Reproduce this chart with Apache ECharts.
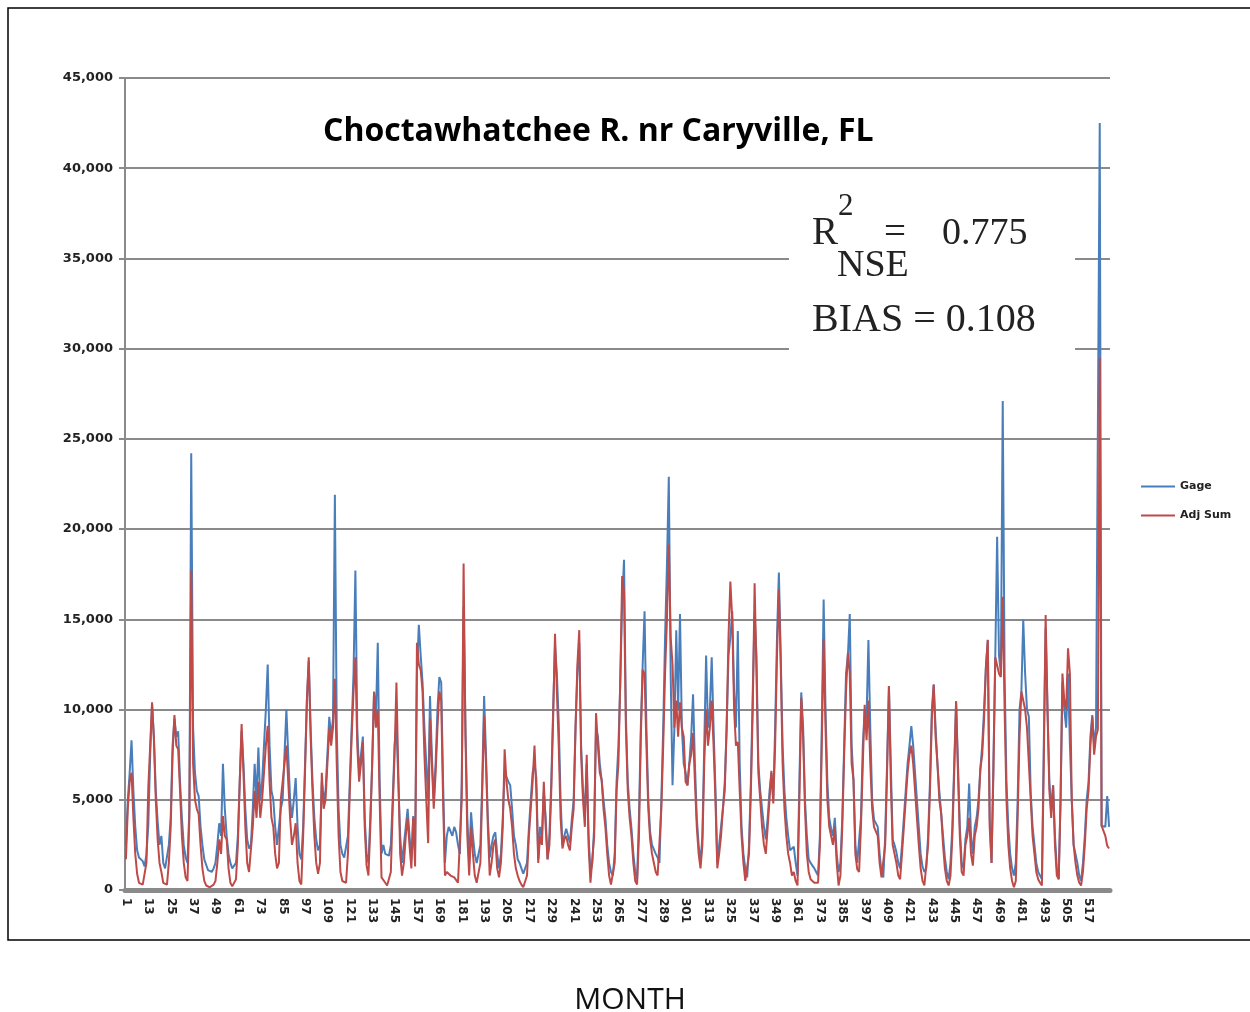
<!DOCTYPE html>
<html>
<head>
<meta charset="utf-8">
<script src="https://cdn.jsdelivr.net/npm/echarts@6/dist/echarts.min.js"></script>
<style>
  html, body { margin: 0; padding: 0; background: #fff; }
  #chart { width: 1250px; height: 1012px; }
</style>
</head>
<body>
<div id="chart"></div>
<script>
// Monthly flow, Choctawhatchee River near Caryville, FL (months 1..528)
const monthCount = 528;
const months = Array.from({ length: monthCount }, (_, i) => String(i + 1));

// Observed gage flow, one row of 12 per year
const gage = [
  2500, 5000, 6500, 8300, 5500, 3500, 2200, 1800, 1700, 1600, 1300, 2000,
  3600, 7500, 10300, 8500, 5500, 3800, 2500, 3000, 1500, 1200, 1100, 2500,
  4000, 8000, 9500, 8500, 8800, 6000, 4000, 2500, 1800, 1500, 4500, 24200,
  9000, 6500, 5500, 5200, 3500, 2500, 1700, 1400, 1100, 1000, 1000, 1200,
  1500, 2500, 3700, 3000, 7000, 4500, 3000, 2000, 1500, 1200, 1100, 1500,
  3000, 6000, 8800, 7000, 4500, 2800, 2300, 2500, 4500, 7000, 5000, 7900,
  5000, 6000, 8000, 10000, 12500, 8000, 5500, 5000, 3500, 2500, 2500, 4500,
  5000, 7500, 10000, 7500, 5000, 4000, 5000, 6200, 3500, 2000, 1700, 3500,
  7000, 10500, 12700, 9000, 6000, 4000, 2800, 2200, 2500, 6000, 5000, 5500,
  5600, 9600, 8500, 9500, 21900, 9000, 4500, 2500, 2000, 1800, 1700, 3000,
  6000, 9000, 12000, 17700, 9000, 6500, 7500, 8500, 4000, 2000, 1500, 4000,
  7000, 11000, 9500, 13700, 6000, 2000, 2500, 2000, 1900, 1900, 2500, 5000,
  8000, 9200, 6000, 3000, 1500, 2500, 3500, 4500, 3000, 1700, 4100, 2000,
  12000, 14700, 13000, 11500, 9000, 7000, 5000, 10750, 7400, 5000, 7000, 10000,
  11800, 11500, 6000, 1500, 3000, 3500, 3500, 3000, 3500, 3200, 2500, 2000,
  6000, 15700, 9000, 4000, 1500, 4300, 3000, 2000, 1500, 1400, 2500, 6000,
  10750, 7500, 4000, 1800, 2500, 3000, 3200, 2000, 1200, 2000, 4000, 6500,
  6500, 6000, 5800, 4500, 3000, 2500, 1700, 1500, 1200, 900, 800, 1500,
  3400, 5000, 6500, 7000, 6200, 1700, 3500, 3000, 5500, 4000, 1700, 3000,
  6000, 10000, 13500, 12000, 9300, 5000, 2500, 3000, 3400, 3000, 2600, 3900,
  5000, 9000, 12000, 13700, 8000, 5500, 4300, 7000, 3000, 1000, 1500, 3500,
  9000, 8500, 7000, 6100, 5000, 4000, 2500, 1500, 1000, 800, 2000, 6000,
  8000, 11500, 16000, 18300, 9600, 6000, 4500, 3400, 2000, 1000, 600, 4000,
  9000, 12500, 15450, 9000, 5000, 3200, 2500, 2400, 2000, 1800, 1500, 5000,
  9000, 14000, 18000, 22900, 12000, 5800, 9000, 14400, 10000, 15300, 9000, 7000,
  6500, 5800, 7000, 8500, 10850, 7000, 4000, 2500, 1500, 3000, 8000, 13000,
  9000, 10000, 12900, 9000, 5600, 1500, 2500, 3500, 4500, 6000, 9000, 13000,
  14000, 15450, 11000, 9000, 14350, 7000, 3500, 2000, 1200, 700, 2500, 6000,
  11000, 15300, 13000, 7000, 5500, 4500, 3500, 2800, 4000, 5500, 6500, 5000,
  9000, 14000, 17600, 13000, 8000, 5500, 4000, 3000, 2200, 2200, 2400, 1500,
  800, 6000, 10950, 9000, 5000, 3000, 1700, 1500, 1500, 1200, 1000, 800,
  3000, 9000, 16100, 10000, 6000, 4000, 3400, 3000, 4000, 2000, 1000, 1500,
  4000, 8000, 12000, 13000, 15300, 8000, 6100, 2500, 1500, 1500, 4000, 8000,
  10000, 9500, 13860, 9000, 5000, 3900, 3900, 3500, 2000, 1000, 700, 3000,
  7000, 11300, 7000, 2800, 2500, 2100, 1500, 1200, 2500, 4000, 5500, 7000,
  8000, 9080, 8000, 6500, 5000, 3500, 2000, 1300, 1000, 1200, 3000, 6000,
  10000, 11380, 9000, 7000, 5500, 4250, 3000, 1800, 1000, 600, 1500, 3500,
  7000, 10460, 7000, 3500, 1500, 1200, 2800, 3500, 5900, 3000, 2000, 3500,
  4000, 5000, 6700, 8000, 10000, 12400, 13860, 4000, 1500, 7000, 12900, 19570,
  13000, 12000, 27100, 12000, 6000, 3500, 2000, 1200, 800, 1500, 5000, 10000,
  11000, 14970, 12000, 10000, 9600, 5400, 3500, 2500, 1500, 1000, 800, 600,
  8000, 14500, 10000, 6000, 4400, 5800, 3000, 1200, 600, 5000, 11500, 10000,
  9000, 12000, 8100, 5000, 2500, 2000, 1500, 800, 500, 1500, 3000, 5000,
  6000, 8500, 9700, 8000, 9000, 8900, 42500, 3550, 3550, 3500, 5200, 3500
];

// Adjusted summed flow, one row of 12 per year
const adjSum = [
  1700, 4500, 6000, 6500, 4000, 2000, 900, 400, 300, 300, 400, 1500,
  5700, 8000, 10400, 8300, 5000, 2800, 1500, 1000, 400, 300, 300, 1500,
  3500, 7500, 9700, 8000, 7800, 5500, 3000, 1500, 700, 500, 4000, 17700,
  7000, 5000, 4500, 4200, 2500, 1200, 500, 250, 200, 150, 150, 300,
  500, 1500, 2800, 2000, 4100, 3000, 2800, 1200, 400, 200, 150, 600,
  2500, 6000, 9200, 6500, 3500, 1500, 1000, 1000, 3500, 5500, 4000, 6000,
  4000, 5000, 6500, 8000, 9100, 6000, 4000, 3500, 2000, 1200, 1500, 5000,
  5000, 7000, 8000, 6000, 4000, 2500, 3000, 3700, 1500, 500, 300, 3000,
  6500, 10500, 12900, 8500, 5500, 3000, 1500, 900, 1500, 6500, 4500, 5000,
  5000, 9000, 8000, 9000, 11700, 7000, 3000, 1000, 500, 400, 400, 2000,
  5500, 8500, 11000, 12900, 8000, 6000, 7000, 8200, 3500, 1350, 800, 3500,
  7000, 10950, 9000, 10000, 5000, 700, 800, 400, 250, 250, 1000, 4500,
  7500, 11500, 6500, 2000, 800, 1500, 3000, 4000, 2500, 1200, 4000, 1300,
  13700, 12500, 12200, 11000, 7500, 5000, 2600, 9500, 7000, 4500, 6500, 9000,
  11000, 10500, 5000, 800, 1000, 900, 800, 800, 700, 600, 400, 400,
  5000, 18100, 8500, 3000, 800, 3500, 2000, 800, 400, 400, 1500, 5500,
  9650, 7000, 3500, 800, 1500, 2500, 2800, 1200, 700, 1500, 3500, 7800,
  6000, 5000, 4500, 3500, 2000, 1200, 800, 500, 300, 150, 150, 800,
  3000, 4500, 6000, 8000, 5500, 1500, 3000, 2500, 6000, 3500, 1700, 2500,
  5500, 9500, 14200, 11000, 8000, 4000, 2300, 2800, 3000, 2500, 2200, 3500,
  4500, 9000, 12500, 14400, 7500, 5000, 3500, 7500, 2500, 400, 500, 3000,
  9800, 8000, 6500, 6100, 4500, 3500, 2000, 800, 300, 300, 1500, 5500,
  7000, 11700, 17400, 16500, 9000, 5500, 4000, 3000, 1500, 500, 300, 3000,
  8500, 12200, 12000, 8000, 4500, 2800, 2000, 1500, 1000, 800, 700, 4500,
  8000, 12000, 15000, 19150, 14000, 12500, 9000, 10500, 8500, 10400, 9000, 8500,
  6000, 5800, 7000, 7500, 8700, 6000, 3500, 2000, 1200, 2500, 7000, 10000,
  8000, 9000, 10500, 8000, 5000, 1200, 2000, 3000, 4500, 5500, 9000, 14000,
  17100, 15000, 10000, 8000, 8200, 5500, 3000, 1500, 500, 500, 2000, 5500,
  10000, 17000, 12000, 6500, 5000, 3500, 2500, 2000, 3500, 5000, 6600, 4800,
  8000, 13000, 16650, 12500, 7000, 4500, 3000, 2000, 1500, 800, 1000, 500,
  250, 5000, 10650, 8500, 4500, 2000, 1000, 600, 500, 400, 400, 400,
  2500, 8000, 13900, 9000, 5000, 3500, 3000, 2500, 3500, 1500, 250, 800,
  3500, 7500, 11000, 13150, 12000, 7000, 6100, 2000, 1150, 1000, 3500, 7000,
  10270, 8300, 10500, 7000, 4500, 3500, 3500, 3000, 1500, 700, 600, 2500,
  6500, 11300, 6000, 2500, 2000, 1500, 800, 600, 2000, 3500, 5000, 6500,
  7500, 8000, 7000, 5500, 4000, 2500, 1200, 500, 250, 300, 2500, 5500,
  9500, 11380, 8500, 7000, 5000, 4250, 2500, 1200, 500, 250, 800, 3000,
  6500, 10460, 6500, 3000, 1000, 800, 2500, 3000, 4000, 2000, 1350, 3000,
  3500, 4500, 6700, 7500, 9500, 12400, 13860, 3500, 1500, 6500, 12900, 13000,
  12000, 11800, 16250, 10000, 5000, 2500, 1200, 500, 150, 500, 4000, 8500,
  11000, 11000, 10000, 9000, 9000, 5000, 3000, 2000, 1000, 600, 400, 250,
  7000, 15240, 10000, 5500, 4000, 5800, 2500, 800, 600, 5000, 12000, 10500,
  10000, 13400, 12000, 5000, 2500, 1500, 800, 400, 250, 1000, 2500, 4500,
  5500, 8000, 9600, 7500, 8500, 8900, 29500, 3550, 3550, 3000, 2450, 2300
];

const yTicks = { min: 0, max: 45000, step: 5000 };
const seriesNames = ['Gage', 'Adj Sum'];
const seriesColors = ['#4a7ebb', '#be4b48'];

const chart = echarts.init(document.getElementById('chart'), null, { renderer: 'canvas' });

const serif = 'Liberation Serif';
const statFill = '#222';

const option = {
  animation: false,
  backgroundColor: '#ffffff',
  grid: { left: 125, right: 140, top: 78, bottom: 122, containLabel: false },
  legend: {
    data: seriesNames,
    orient: 'vertical',
    left: 1136,
    top: 476,
    icon: 'rect',
    itemWidth: 34,
    itemHeight: 2,
    itemGap: 18,
    textStyle: { fontFamily: 'DejaVu Sans', fontWeight: 'bold', fontSize: 11, color: '#222' }
  },
  xAxis: {
    type: 'category',
    data: months,
    boundaryGap: true,
    axisLine: { show: true, lineStyle: { color: '#8a8a8a', width: 5 } },
    axisTick: { show: false },
    axisLabel: {
      interval: 11,
      rotate: -90,
      margin: 8,
      fontFamily: 'DejaVu Sans',
      fontWeight: 'bold',
      fontSize: 12,
      color: '#222'
    },
    splitLine: { show: false }
  },
  yAxis: {
    type: 'value',
    min: yTicks.min,
    max: yTicks.max,
    interval: yTicks.step,
    axisLine: { show: true, lineStyle: { color: '#8a8a8a', width: 2 } },
    axisTick: { show: true, length: 6, lineStyle: { color: '#8a8a8a', width: 2 } },
    axisLabel: {
      margin: 12,
      fontFamily: 'DejaVu Sans',
      fontWeight: 'bold',
      fontSize: 13,
      color: '#222',
      formatter: v => v.toLocaleString('en-US')
    },
    splitLine: { show: true, lineStyle: { color: '#8a8a8a', width: 2 } }
  },
  series: [
    {
      name: seriesNames[0],
      type: 'line',
      data: gage,
      showSymbol: false,
      symbol: 'none',
      lineStyle: { color: seriesColors[0], width: 2 },
      itemStyle: { color: seriesColors[0] },
      z: 3
    },
    {
      name: seriesNames[1],
      type: 'line',
      data: adjSum,
      showSymbol: false,
      symbol: 'none',
      lineStyle: { color: seriesColors[1], width: 2 },
      itemStyle: { color: seriesColors[1] },
      z: 4
    }
  ],
  graphic: [
    // outer frame
    {
      type: 'rect', z: 50, silent: true,
      shape: { x: 8, y: 8, width: 1260, height: 932 },
      style: { fill: null, stroke: '#000', lineWidth: 1.5 }
    },
    // title
    {
      type: 'text', z: 60, x: 323, y: 132,
      style: {
        text: 'Choctawhatchee R. nr Caryville, FL',
        fontFamily: 'Open Sans', fontWeight: 'bold', fontSize: 32, fill: '#000',
        verticalAlign: 'middle'
      }
    },
    // statistics panel
    {
      type: 'rect', z: 60, silent: true,
      shape: { x: 789, y: 185, width: 286, height: 170 },
      style: { fill: '#ffffff', stroke: null }
    },
    {
      type: 'text', z: 61, x: 812, y: 234,
      style: { text: 'R', fontFamily: serif, fontSize: 39, fill: statFill, verticalAlign: 'middle' }
    },
    {
      type: 'text', z: 61, x: 838, y: 207,
      style: { text: '2', fontFamily: serif, fontSize: 31, fill: statFill, verticalAlign: 'middle' }
    },
    {
      type: 'text', z: 61, x: 884, y: 234,
      style: { text: '=', fontFamily: serif, fontSize: 39, fill: statFill, verticalAlign: 'middle' }
    },
    {
      type: 'text', z: 61, x: 942, y: 234,
      style: { text: '0.775', fontFamily: serif, fontSize: 38, fill: statFill, verticalAlign: 'middle' }
    },
    {
      type: 'text', z: 61, x: 837, y: 266,
      style: { text: 'NSE', fontFamily: serif, fontSize: 38, fill: statFill, verticalAlign: 'middle' }
    },
    {
      type: 'text', z: 61, x: 812, y: 320,
      style: { text: 'BIAS = 0.108', fontFamily: serif, fontSize: 40, fill: statFill, verticalAlign: 'middle' }
    },
    // x-axis caption
    {
      type: 'text', z: 60, x: 630, y: 1000,
      style: {
        text: 'MONTH', fontFamily: 'Open Sans', fontSize: 30, fill: '#111',
        align: 'center', verticalAlign: 'middle'
      }
    }
  ]
};

chart.setOption(option);
</script>
</body>
</html>
